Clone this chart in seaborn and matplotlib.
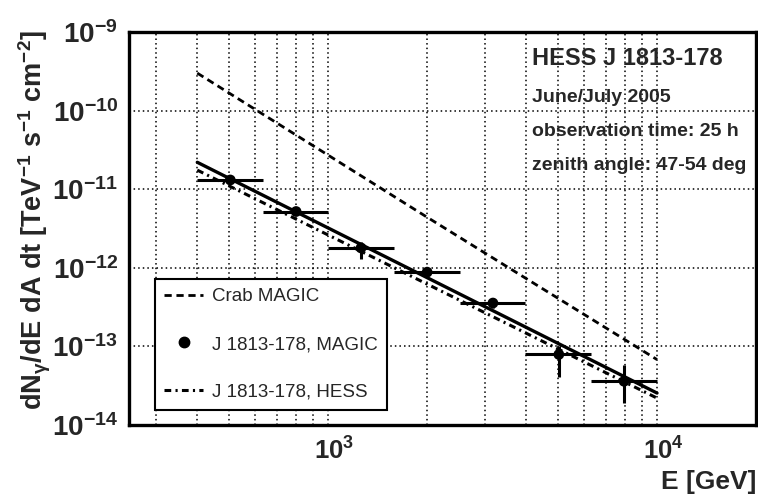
import numpy as np
import pandas as pd
import matplotlib
matplotlib.use("Agg")
import matplotlib.pyplot as plt
import matplotlib.transforms as mtransforms
import seaborn as sns
from matplotlib.ticker import LogLocator, FuncFormatter, NullFormatter, FixedLocator
from matplotlib.lines import Line2D

# ---------------- data ----------------
# MAGIC spectral points of HESS J1813-178 (energy in GeV, flux in TeV^-1 s^-1 cm^-2)
energy = [504, 799, 1259, 2000, 3170, 5030, 7940]
e_low = [400, 634, 1000, 1585, 2512, 3981, 6310]
e_high = [634, 1000, 1585, 2512, 3981, 6310, 10000]
flux = [1.31e-11, 5.2e-12, 1.79e-12, 8.8e-13, 3.56e-13, 7.9e-14, 3.6e-14]
flux_low = [1.15e-11, 4.7e-12, 1.3e-12, 7.5e-13, 3.1e-13, 4.1e-14, 1.9e-14]
flux_high = [1.5e-11, 5.9e-12, 2.1e-12, 1.0e-12, 4.1e-13, 1.0e-13, 5.8e-14]

# power-law fits / reference spectra (end points)
fit_energy = [400, 10000]
magic_fit = [2.2e-11, 2.55e-14]
hess_fit = [1.75e-11, 2.2e-14]
crab_energy = [400, 2000, 10000]
crab_flux = [3.0e-10, 4.4e-12, 6.8e-14]

x_major_ticks = [1e3, 1e4]
y_major_ticks = [1e-14, 1e-13, 1e-12, 1e-11, 1e-10, 1e-9]

legend_labels = ["Crab MAGIC", "J 1813-178, MAGIC", "J 1813-178, HESS"]
info_title = "HESS J 1813-178"
info_lines = ["June/July 2005", "observation time: 25 h", "zenith angle: 47-54 deg"]

# ---------------- style ----------------
sns.set_style("white")
plt.rcParams["font.family"] = ["Liberation Sans", "DejaVu Sans"]
plt.rcParams["mathtext.fontset"] = "custom"
plt.rcParams["mathtext.rm"] = "Liberation Sans"
plt.rcParams["mathtext.bf"] = "Liberation Sans:bold"
plt.rcParams["mathtext.it"] = "Liberation Sans:italic"
plt.rcParams["mathtext.sf"] = "Liberation Sans"

W, H = 758, 496
fig = plt.figure(figsize=(W / 100, H / 100), dpi=100)
ax = fig.add_axes([129 / W, 1 - 425 / H, (756 - 129) / W, (425 - 32) / H])
ax.set_xscale("log")
ax.set_yscale("log")

crab_ls = (0, (2.6, 1.7))
hess_ls = (0, (2.2, 1.4, 0.7, 1.4))

sns.lineplot(x=crab_energy, y=crab_flux, ax=ax, color="black", linewidth=2.0,
             linestyle=crab_ls, sort=False, estimator=None, zorder=3)
sns.lineplot(x=fit_energy, y=hess_fit, ax=ax, color="black", linewidth=2.2,
             linestyle=hess_ls, sort=False, estimator=None, zorder=3)
sns.lineplot(x=fit_energy, y=magic_fit, ax=ax, color="black", linewidth=2.4,
             linestyle="-", sort=False, estimator=None, zorder=3)

xerr = [np.array(energy) - np.array(e_low), np.array(e_high) - np.array(energy)]
yerr = [np.array(flux) - np.array(flux_low), np.array(flux_high) - np.array(flux)]
ax.errorbar(energy, flux, xerr=xerr, yerr=yerr, fmt="none", ecolor="black",
            elinewidth=2.2, capsize=0, zorder=4)
sns.scatterplot(x=energy, y=flux, ax=ax, color="black", s=60, edgecolor="none",
                zorder=5)

ax.set_xlim(248, 20000)
ax.set_ylim(1e-14, 1e-9)

# ticks
fmt = FuncFormatter(lambda v, p: r"$\mathbf{10^{%d}}$" % int(round(np.log10(v))))
ax.xaxis.set_major_locator(FixedLocator(x_major_ticks))
ax.xaxis.set_minor_locator(LogLocator(base=10, subs=np.arange(2, 10), numticks=20))
ax.yaxis.set_major_locator(FixedLocator(y_major_ticks))
ax.yaxis.set_minor_locator(LogLocator(base=10, subs=np.arange(2, 10), numticks=20))
ax.xaxis.set_major_formatter(fmt)
ax.yaxis.set_major_formatter(fmt)
ax.xaxis.set_minor_formatter(NullFormatter())
ax.yaxis.set_minor_formatter(NullFormatter())
ax.tick_params(axis="both", which="both", direction="in", top=False, right=False,
               color="black", width=1.5)
ax.tick_params(axis="y", which="major", length=13, pad=8, labelsize=20)
ax.tick_params(axis="y", which="minor", length=6.5)
ax.tick_params(axis="x", which="major", length=9, pad=9, labelsize=18.5)
ax.tick_params(axis="x", which="minor", length=5)

# ROOT centres the "10" (not the whole label) on the tick: shift slightly right
shift = mtransforms.ScaledTranslation(6 / 100, 0, fig.dpi_scale_trans)
for lab in ax.xaxis.get_majorticklabels():
    lab.set_transform(lab.get_transform() + shift)

# grid
ax.set_axisbelow(True)
ax.grid(True, which="both", axis="x", color="black", linestyle=(0, (1, 2)), linewidth=1.1)
ax.grid(True, which="major", axis="y", color="black", linestyle=(0, (1, 2)), linewidth=1.1)

for s in ax.spines.values():
    s.set_linewidth(2.4)
    s.set_color("black")
    s.set_visible(True)

# labels
ax.set_xlabel("E [GeV]", fontsize=19, fontweight="bold", loc="right")
ax.xaxis.set_label_coords(1.0, -0.115)
ax.set_ylabel(r"$\mathbf{dN_{\gamma}/dE\ dA\ dt\ [TeV^{-1}\ s^{-1}\ cm^{-2}]}$",
              fontsize=19.5, loc="top")
ax.yaxis.set_label_coords(-0.122, 1.005)

# legend
handles = [
    Line2D([], [], color="black", linewidth=2.0, linestyle=crab_ls),
    Line2D([], [], color="black", marker="o", markersize=7.5, linestyle="none"),
    Line2D([], [], color="black", linewidth=2.2, linestyle=hess_ls),
]
leg = ax.legend(handles, legend_labels, loc="lower left",
                bbox_to_anchor=(0.0415, 0.038), borderaxespad=0, frameon=True,
                fancybox=False, edgecolor="black", framealpha=1, fontsize=13.5,
                handlelength=2.05, handletextpad=0.5, labelspacing=1.63,
                borderpad=0.5)
leg.get_frame().set_linewidth(1.5)
leg.set_zorder(10)

# info text
fig.text(532 / W, 1 - 65 / H, info_title, fontsize=17, fontweight="bold",
         ha="left", va="baseline")
for txt, yb in zip(info_lines, [102, 136, 170]):
    fig.text(532 / W, 1 - yb / H, txt, fontsize=14, fontweight="bold",
             ha="left", va="baseline")

fig.savefig("out.png", dpi=100)
